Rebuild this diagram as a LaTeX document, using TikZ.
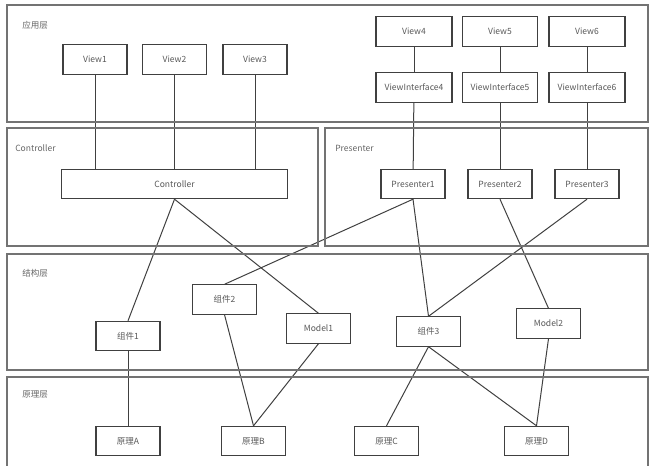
\documentclass[tikz,border=0pt]{standalone}
\usepackage{fontspec}
\setmainfont{Noto Sans CJK SC}
\usetikzlibrary{positioning,backgrounds}

\begin{document}
\begin{tikzpicture}[x=0.75pt,y=-0.75pt,font=\fontsize{6.4pt}{7pt}\selectfont,
    layer/.style={draw=black!55,line width=1.1pt},
    layertitle/.style={anchor=west,text=black!60,inner sep=0pt},
    box/.style={draw=black!75,line width=0.8pt,fill=white,minimum width=48pt,minimum height=22pt,inner sep=1pt,text=black!65},
    link/.style={draw=black!75,line width=0.75pt}]
    \useasboundingbox (0,0) rectangle (655,466);
    % layers
    \draw[layer] (7,5) rectangle (648,122);
    \draw[layer] (7,128) rectangle (318,246);
    \draw[layer] (325,128) rectangle (648,246);
    \draw[layer] (7,254) rectangle (648,370);
    \draw[layer] (7,377) rectangle (648,476);
    \node[layertitle] at (22,25) {应用层};
    \node[layertitle] at (15,148) {Controller};
    \node[layertitle] at (335,148) {Presenter};
    \node[layertitle] at (22,273) {结构层};
    \node[layertitle] at (22,394) {原理层};
    % views
    \node[box] (v1) at (95,59.5) {View1};
    \node[box] (v2) at (174.5,59.5) {View2};
    \node[box] (v3) at (255,59.5) {View3};
    \node[box,minimum width=57pt] (v4) at (414,31.5) {View4};
    \node[box,minimum width=56pt] (v5) at (500,31.5) {View5};
    \node[box,minimum width=57pt] (v6) at (587,31.5) {View6};
    \node[box,minimum width=57pt] (vi4) at (414,87.5) {ViewInterface4};
    \node[box,minimum width=56pt] (vi5) at (500,87.5) {ViewInterface5};
    \node[box,minimum width=57pt] (vi6) at (587,87.5) {ViewInterface6};
    % controller / presenters
    \node[box,minimum width=169pt] (ctrl) at (174.5,184) {Controller};
    \node[box] (p1) at (413,184) {Presenter1};
    \node[box] (p2) at (500,184) {Presenter2};
    \node[box] (p3) at (587,184) {Presenter3};
    % components and models
    \node[box] (c1) at (128,336) {组件1};
    \node[box] (c2) at (224.5,299.5) {组件2};
    \node[box] (m1) at (318.5,328.5) {Model1};
    \node[box] (c3) at (428.5,331.5) {组件3};
    \node[box] (m2) at (548.5,323.5) {Model2};
    % base
    \node[box] (ba) at (128,441) {原理A};
    \node[box] (bb) at (253.5,441) {原理B};
    \node[box] (bc) at (386.5,441) {原理C};
    \node[box] (bd) at (536.5,441) {原理D};
    % links, behind the boxes
    \begin{pgfonlayer}{background}
    \foreach \v in {v1,v2,v3}
      \draw[link] (\v.south) -- (\v.south |- ctrl.north);
    \foreach \n in {4,5,6}
      \draw[link] (v\n) -- (vi\n);
    \draw[link] (vi4) -- (p1);
    \draw[link] (vi5) -- (p2);
    \draw[link] (vi6) -- (p3);
    \draw[link] (ctrl.south) -- (c1.north);
    \draw[link] (ctrl.south) -- (m1.north);
    \draw[link] (p1.south) -- (c2.north);
    \draw[link] (p1.south) -- (c3.north);
    \draw[link] (p2.south) -- (m2.north);
    \draw[link] (p3.south) -- (c3.north);
    \draw[link] (c1.south) -- (ba.north);
    \draw[link] (c2.south) -- (bb.north);
    \draw[link] (m1.south) -- (bb.north);
    \draw[link] (c3.south) -- (bc.north);
    \draw[link] (c3.south) -- (bd.north);
    \draw[link] (m2.south) -- (bd.north);
    \end{pgfonlayer}
  \end{tikzpicture}
\end{document}
